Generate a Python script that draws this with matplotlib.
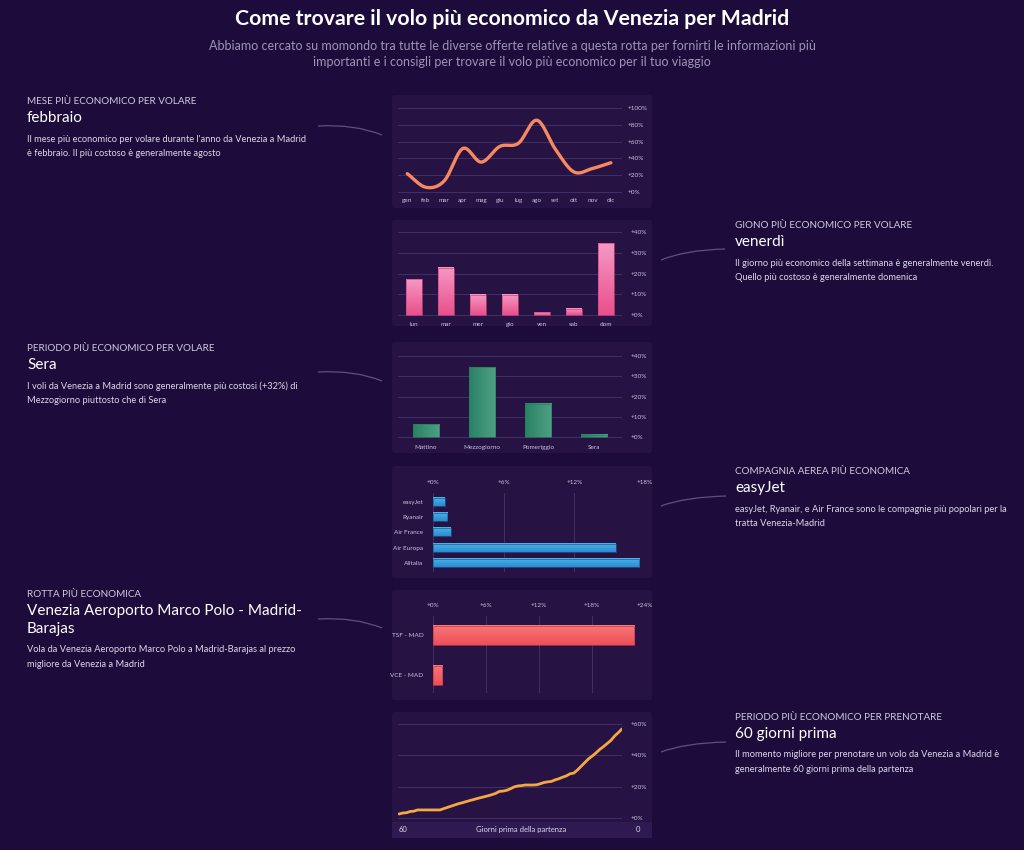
import numpy as np
import matplotlib.pyplot as plt
from matplotlib.transforms import Affine2D
from matplotlib.patches import FancyBboxPatch, PathPatch, Rectangle
from matplotlib.path import Path
from matplotlib.colors import LinearSegmentedColormap

plt.rcParams['font.family'] = ['Lato', 'DejaVu Sans']

# --- data ---
months = ['gen', 'feb', 'mar', 'apr', 'mag', 'giu', 'lug', 'ago', 'set', 'ott', 'nov', 'dic']
month_vals = [21.6, 5.3, 13.0, 51.8, 35.5, 54.3, 58.0, 85.7, 51.0, 23.7, 27.8, 34.7]

days = ['lun', 'mar', 'mer', 'gio', 'ven', 'sab', 'dom']
day_vals = [17.3, 22.9, 9.7, 9.7, 1.3, 3.1, 34.6]

periods = ['Mattino', 'Mezzogiorno', 'Pomeriggio', 'Sera']
period_vals = [6.4, 34.4, 16.4, 1.1]

airlines = ['easyJet', 'Ryanair', 'Air France', 'Air Europa', 'Alitalia']
airline_vals = [1.0, 1.2, 1.5, 15.5, 17.5]

routes = ['TSF - MAD', 'VCE - MAD']
route_vals = [22.8, 1.06]

days_before = list(range(60, -1, -1))
booking_vals = [2.4, 3.0, 3.2, 4.0, 4.2, 5.0, 5.0, 5.0, 5.0, 5.0, 5.0, 5.0,
                5.8, 6.6, 7.4, 8.2, 9.0, 9.6, 10.3, 11.0, 11.6, 12.3, 12.9,
                13.5, 14.1, 14.8, 15.6, 16.9, 17.1, 17.6, 18.6, 19.8, 20.4,
                20.6, 21.0, 21.0, 21.0, 21.1, 21.8, 22.6, 23.0, 23.3, 24.3,
                25.0, 26.0, 26.8, 28.2, 28.6, 30.6, 33.0, 35.4, 37.8, 39.6,
                41.6, 43.8, 45.6, 47.6, 49.6, 52.4, 54.6, 57.0]

W, H = 1024, 850
BG = '#1d0c3b'
CARD = '#261344'
GRID = '#46356a'
TICK = '#c9c1dc'
TXT = '#ddd6ea'

fig = plt.figure(figsize=(W / 100, H / 100), dpi=100)
fig.patch.set_facecolor(BG)
# pixel coordinates, origin top-left
px = Affine2D().scale(1 / W, -1 / H).translate(0, 1) + fig.transFigure


def card(x0, y0, x1, y1, color=CARD):
    p = FancyBboxPatch((x0, y0), x1 - x0, y1 - y0, boxstyle='round,pad=0,rounding_size=3',
                       transform=px, fc=color, ec='none', zorder=-10)
    fig.add_artist(p)


def add_ax(x0, y0, x1, y1):
    ax = fig.add_axes([x0 / W, 1 - y1 / H, (x1 - x0) / W, (y1 - y0) / H])
    ax.set_facecolor('none')
    for s in ax.spines.values():
        s.set_visible(False)
    ax.tick_params(length=0, colors=TICK, labelsize=4.6)
    ax.set_axisbelow(True)
    return ax


def grad_bars(ax, bars, c0, c1, edge, horizontal=False, flip=False):
    cmap = LinearSegmentedColormap.from_list('g', [c0, c1])
    g = np.linspace(0, 1, 64)
    g = g.reshape(1, -1) if horizontal else g.reshape(-1, 1)
    for b in bars:
        x, y = b.get_xy()
        w, h = b.get_width(), b.get_height()
        ext = [x, x + w, y + h, y] if flip else [x, x + w, y, y + h]
        ax.imshow(g, extent=ext, origin='lower', cmap=cmap, aspect='auto',
                  interpolation='bicubic', zorder=2)
        b.set_facecolor('none')
        b.set_edgecolor(edge)
        b.set_linewidth(0.5)
        b.set_zorder(3)


def smooth(x, y, n=20):
    x = np.asarray(x, float)
    y = np.asarray(y, float)
    xp = np.r_[2 * x[0] - x[1], x, 2 * x[-1] - x[-2]]
    yp = np.r_[2 * y[0] - y[1], y, 2 * y[-1] - y[-2]]
    t = np.linspace(0, 1, n, endpoint=False)
    ox, oy = [], []
    for i in range(1, len(xp) - 2):
        for arr, out in ((xp, ox), (yp, oy)):
            p0, p1, p2, p3 = arr[i - 1:i + 3]
            out.extend(0.5 * ((2 * p1) + (-p0 + p2) * t + (2 * p0 - 5 * p1 + 4 * p2 - p3) * t ** 2
                              + (-p0 + 3 * p1 - 3 * p2 + p3) * t ** 3))
    ox.append(x[-1])
    oy.append(y[-1])
    return np.array(ox), np.array(oy)


def arc(p0, c, p1):
    path = Path([p0, c, p1], [Path.MOVETO, Path.CURVE3, Path.CURVE3])
    fig.add_artist(PathPatch(path, transform=px, fc='none', ec='#5f4f84', lw=0.9))


def block(x, y, head, title, desc):
    y += 2
    fig.text(x, y, head, transform=px, color='#cfc8df', fontsize=7.1, va='center')
    yy = y + 16
    for t in title:
        fig.text(x, yy, t, transform=px, color='white', fontsize=11, va='center')
        yy += 18
    yy += 3
    for d in desc:
        fig.text(x, yy, d, transform=px, color=TXT, fontsize=6.7, va='center')
        yy += 15


# --- header ---
fig.text(512, 19, 'Come trovare il volo più economico da Venezia per Madrid', transform=px,
         color='white', fontsize=15.3, fontweight='bold', ha='center', va='center')
fig.text(512, 46, 'Abbiamo cercato su momondo tra tutte le diverse offerte relative a questa rotta '
         'per fornirti le informazioni più', transform=px, color='#9d93b8', fontsize=9,
         ha='center', va='center')
fig.text(512, 62, 'importanti e i consigli per trovare il volo più economico per il tuo viaggio',
         transform=px, color='#9d93b8', fontsize=9, ha='center', va='center')

# --- text blocks ---
block(27, 100, 'MESE PIÙ ECONOMICO PER VOLARE', ['febbraio'],
      ["Il mese più economico per volare durante l'anno da Venezia a Madrid",
       'è febbraio. Il più costoso è generalmente agosto'])
block(735, 224, 'GIONO PIÙ ECONOMICO PER VOLARE', ['venerdì'],
      ['Il giorno più economico della settimana è generalmente venerdì.',
       'Quello più costoso è generalmente domenica'])
block(27, 347, 'PERIODO PIÙ ECONOMICO PER VOLARE', ['Sera'],
      ['I voli da Venezia a Madrid sono generalmente più costosi (+32%) di',
       'Mezzogiorno piuttosto che di Sera'])
block(735, 470, 'COMPAGNIA AEREA PIÙ ECONOMICA', ['easyJet'],
      ['easyJet, Ryanair, e Air France sono le compagnie più popolari per la',
       'tratta Venezia-Madrid'])
block(27, 593, 'ROTTA PIÙ ECONOMICA', ['Venezia Aeroporto Marco Polo - Madrid-', 'Barajas'],
      ['Vola da Venezia Aeroporto Marco Polo a Madrid-Barajas al prezzo',
       'migliore da Venezia a Madrid'])
block(735, 716, 'PERIODO PIÙ ECONOMICO PER PRENOTARE', ['60 giorni prima'],
      ['Il momento migliore per prenotare un volo da Venezia a Madrid è',
       'generalmente 60 giorni prima della partenza'])

arc((318, 126), (355, 124), (382, 135))
arc((318, 372), (355, 370), (382, 381))
arc((318, 619), (355, 617), (382, 628))
arc((661, 260), (685, 250), (725, 249))
arc((661, 506), (685, 497), (726, 496))
arc((661, 752), (685, 743), (726, 742))

# --- cards ---
card(392, 95, 652, 208)
card(392, 220, 652, 326)
card(392, 342, 652, 453)
card(392, 466, 652, 578)
card(392, 590, 652, 700)
card(392, 712, 652, 838)

pct = lambda v: ['+%d%%' % t for t in v]

# month line
ax = add_ax(398, 104, 622, 195)
sx, sy = smooth(range(12), month_vals)
ax.plot(sx, sy, color='#f7885f', lw=2.4, solid_capstyle='round', zorder=3)
ax.set_xlim(-0.5, 11.6)
ax.set_ylim(-4, 105.2)
ax.yaxis.tick_right()
ax.set_yticks(range(0, 101, 20), pct(range(0, 101, 20)))
ax.set_xticks(range(12), months)
ax.grid(axis='y', color=GRID, lw=0.6)
ax.tick_params(axis='x', pad=2)
ax.tick_params(axis='y', pad=4)

# day bars
ax = add_ax(398, 228, 622, 318)
bars = ax.bar(range(7), day_vals, width=0.5)
grad_bars(ax, bars, '#e9508c', '#f598c4', '#d84383')
ax.set_xlim(-0.5, 6.5)
ax.set_ylim(-1.45, 42.0)
ax.yaxis.tick_right()
ax.set_yticks(range(0, 41, 10), pct(range(0, 41, 10)))
ax.set_xticks(range(7), days)
ax.grid(axis='y', color=GRID, lw=0.6)
ax.tick_params(axis='x', pad=3)
ax.tick_params(axis='y', pad=6)

# period bars
ax = add_ax(398, 350, 622, 441)
bars = ax.bar(range(4), period_vals, width=0.48)
grad_bars(ax, bars, '#2a8163', '#4fa084', '#2a7a5e', horizontal=True)
ax.set_xlim(-0.5, 3.5)
ax.set_ylim(-1.8, 43.0)
ax.yaxis.tick_right()
ax.set_yticks(range(0, 41, 10), pct(range(0, 41, 10)))
ax.set_xticks(range(4), periods)
ax.grid(axis='y', color=GRID, lw=0.6)
ax.tick_params(axis='x', pad=3)
ax.tick_params(axis='y', pad=6)

# airline bars
ax = add_ax(433, 493, 645, 572)
bars = ax.barh(range(5), airline_vals, height=0.52)
grad_bars(ax, bars, '#2b8ccf', '#4ab4e8', '#1d5f9a', flip=True)
ax.set_xlim(0, 18)
ax.set_ylim(4.57, -0.56)
ax.xaxis.tick_top()
ax.set_xticks(range(0, 19, 6), pct(range(0, 19, 6)))
ax.set_yticks(range(5), airlines)
ax.grid(axis='x', color=GRID, lw=0.6)
ax.tick_params(axis='x', pad=6)
ax.tick_params(axis='y', pad=7)

# route bars
ax = add_ax(433, 616, 645, 693)
bars = ax.barh(range(2), route_vals, height=0.48)
grad_bars(ax, bars, '#ec4f58', '#f87676', '#c93a4a', flip=True)
ax.set_xlim(0, 24)
ax.set_ylim(1.45, -0.49)
ax.xaxis.tick_top()
ax.set_xticks(range(0, 25, 6), pct(range(0, 25, 6)))
ax.set_yticks(range(2), routes)
ax.grid(axis='x', color=GRID, lw=0.6)
ax.tick_params(axis='x', pad=6)
ax.tick_params(axis='y', pad=7)

# booking line
fig.add_artist(Rectangle((392, 822), 260, 16, transform=px, fc='#2e1a50', ec='none', zorder=-9))
ax = add_ax(398, 718, 622, 821)
ax.plot(days_before, booking_vals, color='#f5a742', lw=2, solid_capstyle='round', zorder=3)
ax.set_xlim(60.27, 0)
ax.set_ylim(-2.1, 64.0)
ax.yaxis.tick_right()
ax.set_yticks(range(0, 61, 20), pct(range(0, 61, 20)))
ax.set_xticks([])
ax.grid(axis='y', color=GRID, lw=0.6)
ax.tick_params(axis='y', pad=6)
fig.text(399, 830, '60', transform=px, color=TXT, fontsize=5.5, va='center')
fig.text(521, 830, 'Giorni prima della partenza', transform=px, color=TXT, fontsize=5.5,
         ha='center', va='center')
fig.text(640, 830, '0', transform=px, color=TXT, fontsize=5.5, ha='right', va='center')

fig.savefig('out.png', dpi=100, facecolor=BG)
